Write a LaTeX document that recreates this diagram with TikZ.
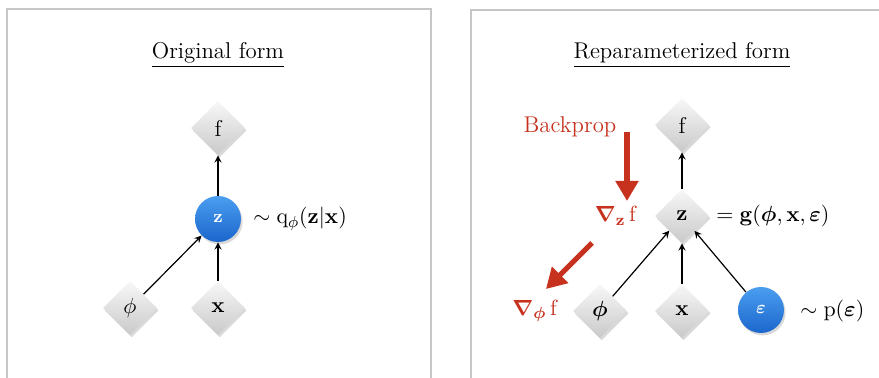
\documentclass[tikz,border=0pt]{standalone}
\usepackage{amsmath,amssymb,bm}
\usepackage{tikz}
\usetikzlibrary{positioning}
\usetikzlibrary{shapes.geometric,shadows,arrows.meta}
\usepackage{xcolor}

\definecolor{bpred}{HTML}{C6321E}
\definecolor{blueTop}{HTML}{4A9EF0}
\definecolor{blueBot}{HTML}{1C66CC}

\tikzset{
  var/.style={diamond, aspect=1, minimum width=27pt, minimum height=27pt,
    inner sep=0pt, top color=gray!6, bottom color=gray!42,
    drop shadow={opacity=0.3, shadow xshift=0.8pt, shadow yshift=-1.2pt}},
  rand/.style={circle, minimum size=23pt, inner sep=0pt,
    top color=blueTop, bottom color=blueBot, text=white,
    font=\fontsize{9}{10}\selectfont\bfseries,
    drop shadow={opacity=0.3, shadow xshift=0.8pt, shadow yshift=-1.2pt}},
  fwd/.style={->, >=stealth, line width=0.6pt},
  grad/.style={-{Triangle[width=11pt,length=10pt]}, line width=2.6pt, bpred},
  lbl/.style={inner sep=0pt},
  panel/.style={draw=gray!45, line width=0.8pt}
}

\begin{document}
\begin{tikzpicture}[x=0.5pt, y=-0.5pt, font=\fontsize{11.4}{14}\selectfont]
    \useasboundingbox (0,0) rectangle (879,378);

    % Panels
    \draw[panel] (7,385) -- (7,9) -- (431,9) -- (431,385);
    \draw[panel] (471,385) -- (471,10) -- (885,10);

    % Original form
    \node[lbl] (titleL) at (218,55) {\underline{Original form}};
    \node[var] (fL) at (218,128) {f};
    \node[rand] (zL) at (218,219) {z};
    \node[var] (phiL) at (130,308) {$\phi$};
    \node[var] (xL) at (218,308) {$\mathbf{x}$};
    \node[lbl, anchor=west] (qL) at (253,219) {$\sim \mathrm{q}_{\phi}(\mathbf{z}|\mathbf{x})$};

    \draw[fwd] (zL) -- (fL);
    \draw[fwd] (phiL) -- (zL);
    \draw[fwd] (xL) -- (zL);

    % Reparameterized form
    \node[lbl] (titleR) at (682,55) {\underline{Reparameterized form}};
    \node[var] (fR) at (682,125) {f};
    \node[var] (zR) at (682,216) {$\mathbf{z}$};
    \node[var] (phiR) at (600,311) {$\boldsymbol{\phi}$};
    \node[var] (xR) at (682,311) {$\mathbf{x}$};
    \node[rand] (epsR) at (761,310) {$\boldsymbol{\varepsilon}$};
    \node[lbl, anchor=west] (gR) at (716,216) {$= \mathbf{g}(\boldsymbol{\phi},\mathbf{x},\boldsymbol{\varepsilon})$};
    \node[lbl, anchor=west] (pR) at (800,311) {$\sim \mathrm{p}(\boldsymbol{\varepsilon})$};

    \draw[fwd] (zR) -- (fR);
    \draw[fwd] (phiR) -- (zR);
    \draw[fwd] (xR) -- (zR);
    \draw[fwd] (epsR) -- (zR);

    % Backprop
    \node[lbl, text=bpred] (bp) at (570,127) {Backprop};
    \node[lbl, text=bpred, anchor=east] (gradz) at (638,216) {$\boldsymbol{\nabla}_{\mathbf{z}}\,\mathrm{f}$};
    \node[lbl, text=bpred, anchor=east] (gradphi) at (559,311) {$\boldsymbol{\nabla}_{\boldsymbol{\phi}}\,\mathrm{f}$};
    \coordinate (bpA) at (627,132);
    \coordinate (bpB) at (627,201);
    \coordinate (bpC) at (592,243);
    \coordinate (bpD) at (546,289);
    \draw[grad] (bpA) -- (bpB);
    \draw[grad] (bpC) -- (bpD);
\end{tikzpicture}
\end{document}
